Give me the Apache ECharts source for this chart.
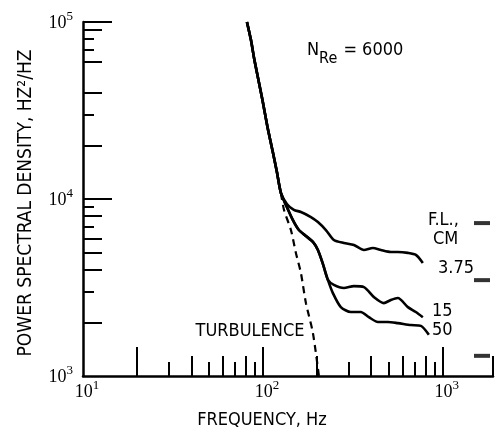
<!DOCTYPE html>
<html>
<head>
<meta charset="utf-8">
<script src="https://cdn.jsdelivr.net/npm/echarts@6.0.0/dist/echarts.min.js"></script>
<style>
    html, body { margin: 0; padding: 0; background: #fff; }
    #psd_chart { width: 500px; height: 438px; }
</style>
</head>
<body>
<div id="psd_chart"></div>
<script>
    // axis ranges
    var xMin = 10, xMax = 1900;
    var yMin = 1000, yMax = 100000;

    // tick labels and tick marks (three lengths, as on the drawing)
    var xLabelValues = [10, 100, 1000];
    var yLabelValues = [1000, 10000, 100000];
    var xTicksLong = [20, 100, 1000];
    var xTicksMid = [40, 60, 80, 200, 400, 600, 800, 1900];
    var xTicksShort = [30, 50, 70, 90, 300, 500, 700, 900];
    var yTicksLong = [10000, 100000];
    var yTicksMid = [2000, 4000, 5000, 6000, 8000, 20000, 40000, 60000, 90000];
    var yTicksShort = [3000, 7000, 9000, 30000, 70000, 80000];

    // [frequency Hz, PSD Hz^2/Hz]
    var trunk = [[81.5, 100000], [85.8, 79000], [89.7, 60900], [99.4, 36200], [106, 25500],
                 [112.9, 18900], [119.6, 14200], [125.9, 10810]];
    var fl375 = [[135.9, 9380], [148.6, 8670], [162.6, 8450], [184.8, 7910], [202.1, 7410],
                 [223.9, 6680], [247.9, 5870], [281.8, 5640], [320.4, 5500], [364.3, 5150],
                 [408.4, 5290], [452.6, 5150], [514, 5020], [562, 5020], [639, 4960],
                 [708, 4830], [774, 4350]];
    var fl15and50 = [[134.3, 9250], [146.8, 7600], [158.5, 6680], [173.4, 6180], [189.6, 5720],
                     [202.1, 5150], [215.4, 4300], [229.7, 3490]];
    var fl15 = [[247.9, 3270], [281.8, 3140], [320.4, 3220], [364.3, 3180], [414, 2790],
                [470, 2580], [514, 2690], [562, 2760], [639, 2450], [708, 2300], [774, 2150]];
    var fl50 = [[244.8, 2940], [271, 2450], [308, 2300], [350, 2300], [388, 2150],
                [435.5, 2020], [494.5, 2020], [562, 1990], [664, 1940], [755, 1920], [836, 1710]];
    var turbulence = [[125.9, 10810], [131, 8670], [143.1, 6680], [152.5, 4960], [162.6, 3820],
                      [173.4, 2580], [189.6, 1750], [204.7, 1000]];
    var flMarkers = [[1650, 7310], [1650, 3480], [1650, 1300]];

    var sans = '"Liberation Sans Narrow", "DejaVu Sans Condensed", "Liberation Sans", sans-serif';
    var serif = '"Liberation Serif", "DejaVu Serif", serif';

    function powLabel(v) {
        return '{b|10}{s|' + Math.round(Math.log10(v)) + '}';
    }

    function xAxisOf(ticks, len, main) {
        return {
            type: 'log', logBase: 10, min: xMin, max: xMax, position: 'bottom',
            axisLine: { show: main, onZero: false, lineStyle: { color: '#000', width: 2.5 } },
            axisTick: { show: true, inside: true, length: len, customValues: ticks,
                        lineStyle: { color: '#000', width: 2 } },
            axisLabel: main ? {
                customValues: xLabelValues, margin: 5, formatter: powLabel,
                rich: {
                    b: { fontFamily: serif, fontSize: 18, lineHeight: 20, color: '#000',
                         verticalAlign: 'bottom', padding: [0, 0, 0, 8] },
                    s: { fontFamily: serif, fontSize: 13, lineHeight: 13, color: '#000',
                         verticalAlign: 'bottom', padding: [0, 0, 9, 0] }
                }
            } : { show: false },
            splitLine: { show: false },
            minorTick: { show: false }
        };
    }

    function yAxisOf(ticks, len, main) {
        return {
            type: 'log', logBase: 10, min: yMin, max: yMax, position: 'left',
            axisLine: { show: main, onZero: false, lineStyle: { color: '#000', width: 2.5 } },
            axisTick: { show: true, inside: true, length: len, customValues: ticks,
                        lineStyle: { color: '#000', width: 2 } },
            axisLabel: main ? {
                customValues: yLabelValues, margin: 10, formatter: powLabel,
                rich: {
                    b: { fontFamily: serif, fontSize: 18, lineHeight: 20, color: '#000',
                         verticalAlign: 'bottom' },
                    s: { fontFamily: serif, fontSize: 13, lineHeight: 13, color: '#000',
                         verticalAlign: 'bottom', padding: [0, 0, 9, 0] }
                }
            } : { show: false },
            splitLine: { show: false },
            minorTick: { show: false }
        };
    }

    function curve(data, dashed) {
        return {
            type: 'line', xAxisIndex: 0, yAxisIndex: 0, data: data,
            symbol: 'none', smooth: 0.25, silent: true,
            lineStyle: { color: '#000', width: dashed ? 2.2 : 2.6, type: dashed ? [7, 5] : 'solid' }
        };
    }

    var option = {
        animation: false,
        backgroundColor: '#fff',
        grid: { left: 83, top: 22, right: 7, bottom: 62, containLabel: false },
        xAxis: [xAxisOf(xTicksLong, 29, true), xAxisOf(xTicksMid, 20, false), xAxisOf(xTicksShort, 14, false)],
        yAxis: [yAxisOf(yTicksLong, 29, true), yAxisOf(yTicksMid, 19, false), yAxisOf(yTicksShort, 11, false)],
        series: [
            curve(trunk.concat(fl375), false),
            curve(trunk.concat(fl15and50, fl15), false),
            curve(trunk.concat(fl15and50, fl50), false),
            curve(turbulence, true),
            {
                type: 'scatter', xAxisIndex: 0, yAxisIndex: 0, data: flMarkers,
                symbol: 'rect', symbolSize: [16, 4], silent: true,
                itemStyle: { color: '#000' }
            }
        ],
        graphic: [
            { type: 'text', x: 262, y: 420,
              style: { text: 'FREQUENCY, Hz', font: '18px ' + sans, fill: '#000', align: 'center', verticalAlign: 'middle' } },
            { type: 'text', x: 26, y: 203, rotation: Math.PI / 2,
              style: { text: 'POWER SPECTRAL DENSITY, HZ\u00b2/HZ', font: '19px ' + sans, fill: '#000', align: 'center', verticalAlign: 'middle' } },
            { type: 'text', x: 307, y: 41,
              style: {
                  text: '{n|N}{sub|Re}{n| = 6000}',
                  rich: {
                      n: { fontFamily: sans, fontSize: 18, lineHeight: 22, fill: '#000', verticalAlign: 'top' },
                      sub: { fontFamily: sans, fontSize: 16, lineHeight: 18, fill: '#000', verticalAlign: 'top', padding: [10, 1, 0, 0] }
                  }
              } },
            { type: 'text', x: 250, y: 331,
              style: { text: 'TURBULENCE', font: '18px ' + sans, fill: '#000', align: 'center', verticalAlign: 'middle' } },
            { type: 'text', x: 428, y: 220,
              style: { text: 'F.L.,', font: '18px ' + sans, fill: '#000', verticalAlign: 'middle' } },
            { type: 'text', x: 433, y: 239,
              style: { text: 'CM', font: '18px ' + sans, fill: '#000', verticalAlign: 'middle' } },
            { type: 'text', x: 438, y: 268,
              style: { text: '3.75', font: '18px ' + sans, fill: '#000', verticalAlign: 'middle' } },
            { type: 'text', x: 432, y: 311,
              style: { text: '15', font: '18px ' + sans, fill: '#000', verticalAlign: 'middle' } },
            { type: 'text', x: 432, y: 330,
              style: { text: '50', font: '18px ' + sans, fill: '#000', verticalAlign: 'middle' } }
        ]
    };

    var chartPsd = echarts.init(document.getElementById('psd_chart'));
    chartPsd.setOption(option);

    window.addEventListener('resize', function () {
        chartPsd.resize();
    });
</script>
</body>
</html>
